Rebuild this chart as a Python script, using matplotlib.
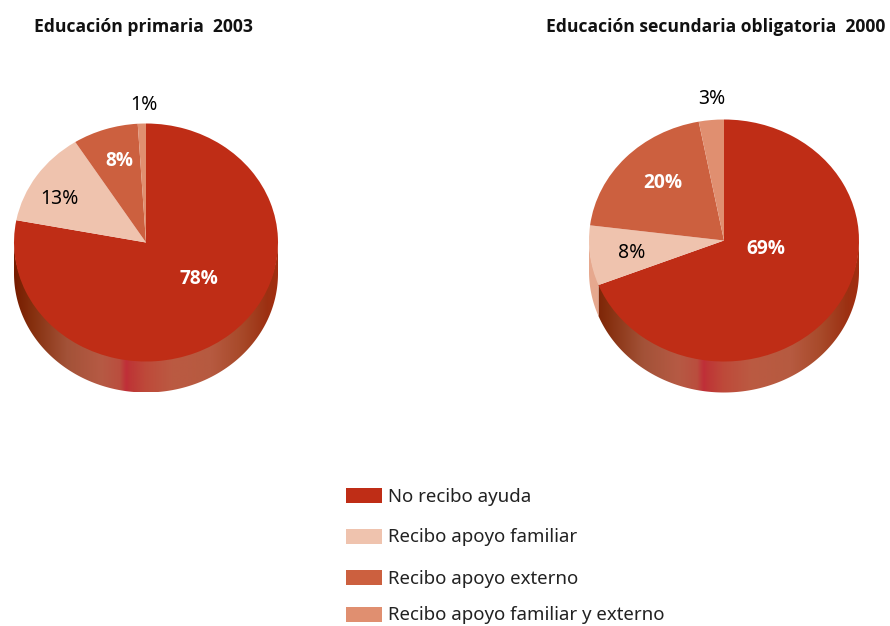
import numpy as np
import matplotlib
matplotlib.use("Agg")
import matplotlib.pyplot as plt
from matplotlib.colors import LinearSegmentedColormap
from matplotlib.patches import Rectangle, Polygon

plt.rcParams['font.family'] = ['Noto Sans', 'DejaVu Sans']
BOLD = ['Open Sans', 'DejaVu Sans']

W, H = 890, 626
categories = ["No recibo ayuda", "Recibo apoyo familiar", "Recibo apoyo externo",
              "Recibo apoyo familiar y externo"]
primaria = [78, 13, 8, 1]
secundaria = [69, 8, 20, 3]
title_primaria = "Educación primaria  2003"
title_secundaria = "Educación secundaria obligatoria  2000"
colors = ["#BF2D16", "#EFC3AE", "#CC603F", "#E08F70"]
side_light = "#E6A88E"

shade = LinearSegmentedColormap.from_list("side", [
    (0.00, "#761C00"), (0.07, "#86300F"), (0.20, "#A35238"), (0.33, "#B65A44"),
    (0.40, "#BA4E3E"), (0.425, "#C02E38"), (0.44, "#BE3636"), (0.50, "#BE4A3A"),
    (0.60, "#BB5A42"), (0.75, "#B65A40"), (0.86, "#A84A2A"), (0.96, "#9C3012"),
    (1.00, "#A22E10")])

fig = plt.figure(figsize=(W / 100, H / 100), dpi=100)


def px_axes(x0, y0, x1, y1):
    return fig.add_axes([x0 / W, 1 - y1 / H, (x1 - x0) / W, (y1 - y0) / H])


def draw_pie(values, cx, cy, rx, ry, depth):
    ax = px_axes(cx - rx, cy - ry, cx + rx, cy + ry)
    d = depth / ry
    # side wall: the lower half of the ellipse, wedge by wedge
    start = 90.0
    for v, c in zip(values, colors):
        a0 = (start - v * 3.6) % 360
        a1 = a0 + v * 3.6
        start -= v * 3.6
        for shift in (0, -360):
            lo, hi = max(a0 + shift, 180), min(a1 + shift, 360)
            if lo >= hi:
                continue
            th = np.radians(np.linspace(lo, hi, 300))
            xs, ys = np.cos(th), np.sin(th)
            verts = np.r_[np.c_[xs, ys + 0.02], np.c_[xs[::-1], ys[::-1] - d]]
            if c == colors[0]:
                poly = Polygon(verts, closed=True, fc='none', ec='none', clip_on=False)
                ax.add_patch(poly)
                im = ax.imshow(np.linspace(0, 1, 800)[None, :], cmap=shade, vmin=0, vmax=1,
                               extent=(-1, 1, -1 - d, 1), aspect='auto', zorder=1,
                               interpolation='bilinear')
                im.set_clip_path(poly)
                im.set_clip_box(fig.bbox)
            else:
                ax.add_patch(Polygon(verts, closed=True, fc=side_light, ec='none',
                                     clip_on=False, zorder=1))
    ax.pie(values, colors=colors, startangle=90, counterclock=False, radius=1,
           wedgeprops=dict(linewidth=0, zorder=2))
    ax.set_aspect('auto')
    ax.set_xlim(-1, 1)
    ax.set_ylim(-1, 1)
    ax.axis('off')


draw_pie(primaria, 146, 242.5, 132, 119, 31)
draw_pie(secundaria, 724, 240.5, 135, 121, 31)

ov = fig.add_axes([0, 0, 1, 1], zorder=5)
ov.set_xlim(0, W)
ov.set_ylim(H, 0)
ov.axis('off')
ov.patch.set_alpha(0)

ov.text(143.5, 26.5, title_primaria, ha='center', va='center', fontsize=12.6,
        fontweight='bold', family=BOLD, color='#111111')
ov.text(716, 26.5, title_secundaria, ha='center', va='center', fontsize=12.6,
        fontweight='bold', family=BOLD, color='#111111')

labels = [
    (198.5, 278.5, primaria[0], 'white', 'bold'), (59, 198.5, primaria[1], 'black', 'normal'),
    (119, 161.5, primaria[2], 'white', 'bold'), (143.5, 104.5, primaria[3], 'black', 'normal'),
    (765.5, 248.5, secundaria[0], 'white', 'bold'), (632, 252.5, secundaria[1], 'black', 'normal'),
    (662.5, 182.5, secundaria[2], 'white', 'bold'), (712, 98.5, secundaria[3], 'black', 'normal'),
]
for x, y, v, col, wt in labels:
    if wt == 'bold':
        ov.text(x, y, f"{v}%", ha='center', va='center', fontsize=13.8, color=col,
                fontweight='bold', family=BOLD)
    else:
        ov.text(x, y, f"{v}%", ha='center', va='center', fontsize=14, color=col)

leg_y = [495, 536, 577, 614]
for y, c, name in zip(leg_y, colors, categories):
    ov.add_patch(Rectangle((346, y - 7.5), 36, 15, facecolor=c, edgecolor='none'))
    ov.text(388, y + 1.5, name, ha='left', va='center', fontsize=13.45, color='#222222')

fig.savefig("out.png", dpi=100)
